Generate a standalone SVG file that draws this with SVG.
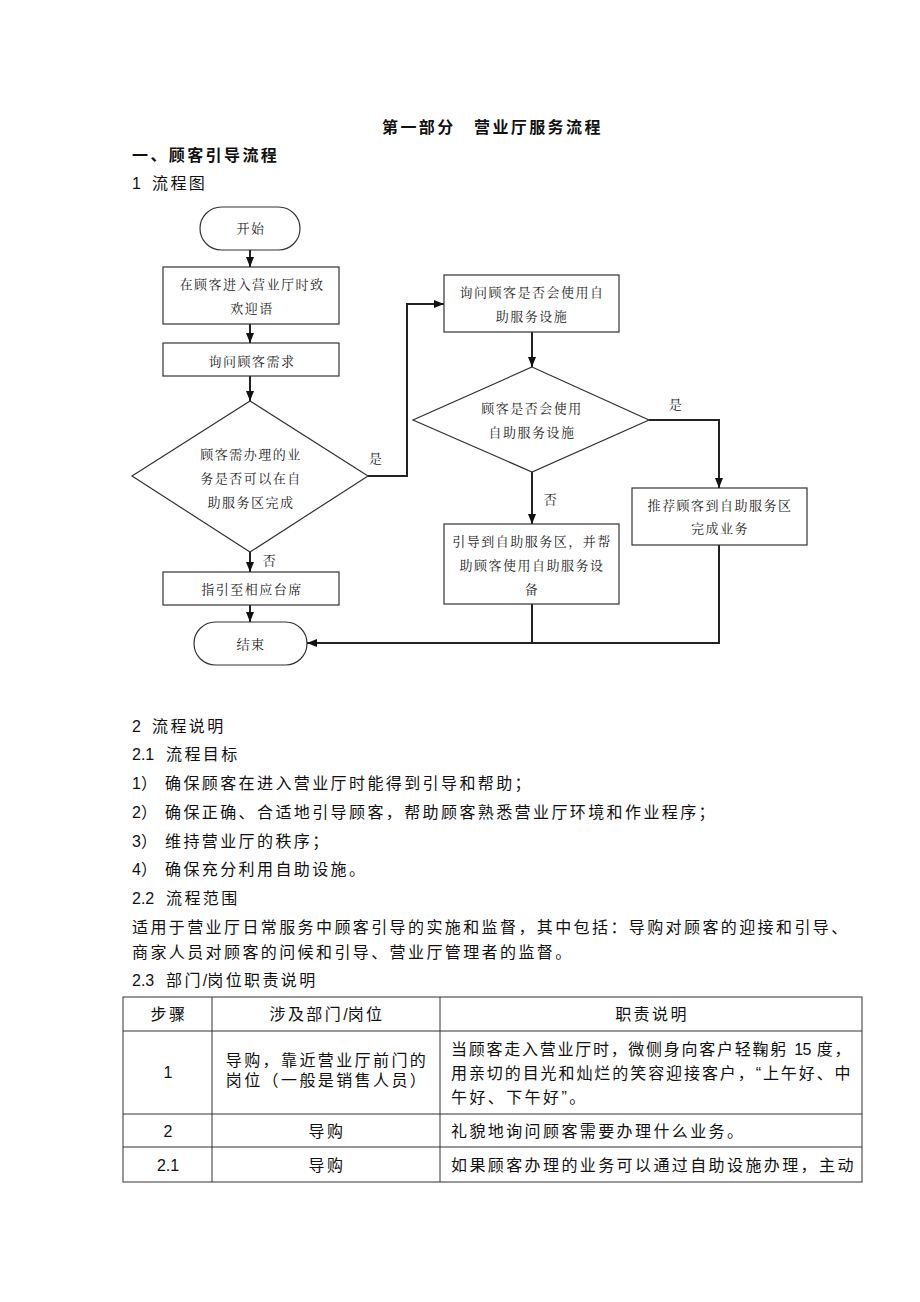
<svg xmlns="http://www.w3.org/2000/svg" width="920" height="1302" viewBox="0 0 920 1302">
<style>
.body{font-family:"Liberation Sans","Noto Sans CJK SC",sans-serif;font-size:16px;letter-spacing:2.4px;fill:#111}
.n{letter-spacing:0}
.bold{font-weight:bold}
.fc{font-family:"Noto Serif CJK SC","Noto Sans CJK SC",serif;font-size:13px;letter-spacing:1.5px;fill:#222;text-anchor:middle}
.shape{fill:#fff;stroke:#333;stroke-width:1.2}
.conn{fill:none;stroke:#222;stroke-width:2}
.tbl{fill:none;stroke:#333;stroke-width:1}
.c{text-anchor:middle}
</style>
<defs>
<marker id="arr" markerUnits="userSpaceOnUse" markerWidth="10" markerHeight="10" viewBox="0 0 10 10" refX="10" refY="5" orient="auto">
<path d="M0,1 L10,5 L0,9 z" fill="#111"/>
</marker>
</defs>
<rect width="920" height="1302" fill="#fff"/>

<text class="body bold" x="382" y="133">第一部分　营业厅服务流程</text>
<text class="body bold" x="132" y="161">一、顾客引导流程</text>
<text class="body" x="132" y="189"><tspan class="n">1 </tspan><tspan x="152">流程图</tspan></text>

<g id="connectors">
<path class="conn" d="M250,250 V267" marker-end="url(#arr)"/>
<path class="conn" d="M250,324 V343" marker-end="url(#arr)"/>
<path class="conn" d="M250,376 V401" marker-end="url(#arr)"/>
<path class="conn" d="M250,552 V572" marker-end="url(#arr)"/>
<path class="conn" d="M250,605 V622" marker-end="url(#arr)"/>
<path class="conn" d="M368,476 H407 V304 H444" marker-end="url(#arr)"/>
<path class="conn" d="M532,332 V367" marker-end="url(#arr)"/>
<path class="conn" d="M649,420 H719 V488" marker-end="url(#arr)"/>
<path class="conn" d="M532,472 V524" marker-end="url(#arr)"/>
<path class="conn" d="M532,604 V643"/>
<path class="conn" d="M719,545 V643 H307" marker-end="url(#arr)"/>
<text class="fc" x="376" y="463">是</text>
<text class="fc" x="270" y="565">否</text>
<text class="fc" x="676" y="409">是</text>
<text class="fc" x="551" y="504">否</text>
</g>

<g id="start">
<rect class="shape" x="200" y="207" width="100" height="43" rx="21.5"/>
<text class="fc" x="251" y="233">开始</text>
</g>
<g id="welcome">
<rect class="shape" x="163" y="267" width="176" height="57"/>
<text class="fc" x="252" y="289">在顾客进入营业厅时致</text>
<text class="fc" x="252" y="313">欢迎语</text>
</g>
<g id="ask-need">
<rect class="shape" x="163" y="343" width="176" height="33"/>
<text class="fc" x="252" y="366">询问顾客需求</text>
</g>
<g id="decision1">
<polygon class="shape" points="250,401 368,476 250,552 132,476"/>
<text class="fc" x="251" y="459">顾客需办理的业</text>
<text class="fc" x="251" y="483">务是否可以在自</text>
<text class="fc" x="251" y="507">助服务区完成</text>
</g>
<g id="guide-counter">
<rect class="shape" x="163" y="572" width="176" height="33"/>
<text class="fc" x="252" y="594">指引至相应台席</text>
</g>
<g id="end">
<rect class="shape" x="194" y="622" width="113" height="43" rx="21.5"/>
<text class="fc" x="251" y="649">结束</text>
</g>
<g id="ask-self">
<rect class="shape" x="444" y="275" width="175" height="57"/>
<text class="fc" x="532" y="297">询问顾客是否会使用自</text>
<text class="fc" x="532" y="321">助服务设施</text>
</g>
<g id="decision2">
<polygon class="shape" points="532,367 649,420 532,472 413,420"/>
<text class="fc" x="532" y="413">顾客是否会使用</text>
<text class="fc" x="532" y="437">自助服务设施</text>
</g>
<g id="recommend">
<rect class="shape" x="632" y="488" width="175" height="57"/>
<text class="fc" x="720" y="510">推荐顾客到自助服务区</text>
<text class="fc" x="720" y="533">完成业务</text>
</g>
<g id="guide-self">
<rect class="shape" x="444" y="524" width="175" height="80"/>
<text class="fc" x="532" y="546">引导到自助服务区，并帮</text>
<text class="fc" x="532" y="570">助顾客使用自助服务设</text>
<text class="fc" x="532" y="594">备</text>
</g>

<text class="body" x="132" y="732"><tspan class="n">2 </tspan><tspan x="152">流程说明</tspan></text>
<text class="body" x="132" y="760"><tspan class="n">2.1 </tspan><tspan x="166">流程目标</tspan></text>
<text class="body" x="132" y="789"><tspan class="n">1</tspan>）<tspan x="165">确保顾客在进入营业厅时能得到引导和帮助；</tspan></text>
<text class="body" x="132" y="818"><tspan class="n">2</tspan>）<tspan x="165">确保正确、合适地引导顾客，帮助顾客熟悉营业厅环境和作业程序；</tspan></text>
<text class="body" x="132" y="847"><tspan class="n">3</tspan>）<tspan x="165">维持营业厅的秩序；</tspan></text>
<text class="body" x="132" y="875"><tspan class="n">4</tspan>）<tspan x="165">确保充分利用自助设施。</tspan></text>
<text class="body" x="132" y="904"><tspan class="n">2.2 </tspan><tspan x="166">流程范围</tspan></text>
<text class="body" x="132" y="933">适用于营业厅日常服务中顾客引导的实施和监督，其中包括：导购对顾客的迎接和引导、</text>
<text class="body" x="132" y="958">商家人员对顾客的问候和引导、营业厅管理者的监督。</text>
<text class="body" x="132" y="986"><tspan class="n">2.3 </tspan><tspan x="166">部门</tspan><tspan class="n">/</tspan>岗位职责说明</text>

<g id="table">
<rect class="tbl" x="123" y="997" width="739" height="185"/>
<path class="tbl" d="M123,1031 H862 M123,1114 H862 M123,1147 H862 M212,997 V1182 M440,997 V1182"/>
<text class="body c" x="169" y="1020">步骤</text>
<text class="body c" x="327" y="1020">涉及部门<tspan class="n">/</tspan>岗位</text>
<text class="body c" x="652" y="1020">职责说明</text>
<text class="body c n" x="168" y="1078">1</text>
<text class="body c" x="327" y="1066">导购，靠近营业厅前门的</text>
<text class="body c" x="327" y="1086">岗位（一般是销售人员）</text>
<text class="body" x="451" y="1055" textLength="402" lengthAdjust="spacing">当顾客走入营业厅时，微侧身向客户轻鞠躬 <tspan class="n">15</tspan> 度，</text>
<text class="body" x="451" y="1079" textLength="402" lengthAdjust="spacing">用亲切的目光和灿烂的笑容迎接客户，“上午好、中</text>
<text class="body" x="451" y="1103">午好、下午好”。</text>
<text class="body c n" x="168" y="1137">2</text>
<text class="body c" x="327" y="1137">导购</text>
<text class="body" x="451" y="1137">礼貌地询问顾客需要办理什么业务。</text>
<text class="body c n" x="168" y="1171">2.1</text>
<text class="body c" x="327" y="1171">导购</text>
<text class="body" x="451" y="1171">如果顾客办理的业务可以通过自助设施办理，主动</text>
</g>
</svg>
